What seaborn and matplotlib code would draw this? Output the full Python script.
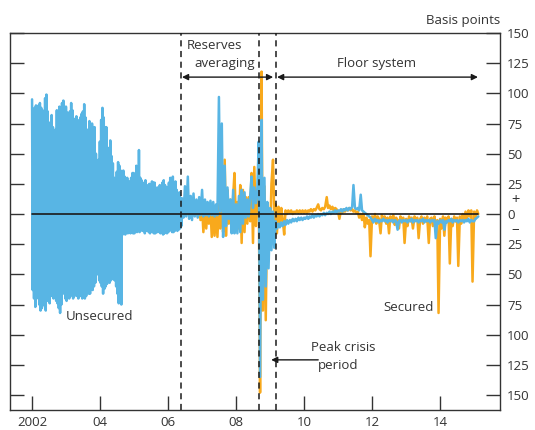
import pandas as pd
import numpy as np
import matplotlib
matplotlib.use("Agg")
import matplotlib.pyplot as plt
import seaborn as sns

# --- DATA: spreads to Bank Rate, basis points ---
# weekly readings for the very noisy early unsecured period (high/low alternating)
EARLY_START = "2002-01-01"
unsecured_early = [
    # 2002
    95, -63, 60, -70, 88, -77, 90, -70, 85, -57, 90, -75, 92, -80,
    88, -78, 86, -71, 80, -76, 96, -80, 99, -72, 85, -71, 70, -74,
    76, -68, 82, -66, 72, -70, 66, -68, 70, -72, 86, -74, 84, -78,
    89, -82, 80, -75, 92, -35, 94, -66, 88, -70,
    # 2003
    89, -72, 84, -68, 78, -70, 85, -68, 92, -65, 86, -70, 79, -68,
    75, -66, 81, -68, 78, -70, 76, -66, 80, -68, 83, -70, 85, -68,
    91, -70, 80, -68, 65, -64, 70, -66, 77, -66, 74, -38, 75, -63,
    72, -60, 72, -57, 50, -46, 27, -50, 45, -55,
    # 2004
    60, -57, 78, -60, 88, -66, 80, -62, 72, -60, 72, -58, 55, -55,
    41, -57, 61, -55, 48, -52, 42, -54, 30, -55, 25, -60, 35, -66,
    43, -74, 40, -70, 36, -75, 30, -17, 36, -16, 31, -17, 28, -15,
    30, -16, 25, -15, 27, -16, 30, -14, 34, -16,
    # 2005
    34, -16, 32, -14, 40, -15, 36, -14, 53, -15, 30, -13, 28, -14,
    23, -13, 26, -16, 28, -14, 22, -13, 24, -15, 25, -16, 22, -14,
    27, -15, 26, -16, 26, -16, 20, -15, 22, -15, 20, -14, 24, -16,
    22, -15, 26, -17, 28, -16, 24, -15, 22, -16,
    # 2006 (to May)
    22, -15, 26, -14, 30, -13, 28, -15, 31, -15, 25, -14, 27, -13,
    20, -14, 14, -13, 18, -12, 13, -10,
]

# semi-monthly readings from June 2006
LATE_START = "2006-06-01"
unsecured_late = [
    # 2006 (from June)
    13, -3, 23, -2, 31, -4, 15, -5, 17, -2, 12, -3, 14, -1,
    # 2007
    20, -2, 12, -1, 10, -2, 11, -1, 10, -2, 8, -1,
    97, 2, 75, -19, 40, -10, 22, -4, 12, -16, 20, -16,
    # 2008
    8, -16, 15, -15, 20, -8, 18, -3, 12, -2, 15, 31,
    5, 22, 9, 18, 60, -135, 78, -71, 30, -60, 10, -45,
    # 2009
    5, -30, 2, -28, -6, -12, -8, -11, -7, -10, -6, -9,
    -5, -8, -5, -7, -4, -6, -4, -6, -3, -5, -3, -5,
    # 2010
    -3, -4, -2, -4, -2, -3, -1, -3, -1, -2, 0, -2,
    0, -1, 1, -1, 1, 0, 2, 0, 2, 1, 3, 1,
    # 2011
    3, 2, 4, 2, 4, 3, 5, 3, 5, 4, 6, 24,
    5, 4, 5, 3, 16, 3, 2, 1, 0, -1, -2, -3,
    # 2012
    -5, -7, -4, -6, -5, -7, -5, -6, -4, -6, -5, -7,
    -5, -6, -5, -7, -5, -6, -13, -6, -5, -7, -5, -6,
    # 2013
    -5, -7, -5, -6, -4, -7, -5, -6, -5, -7, -5, -6,
    -4, -7, -5, -6, -5, -7, -5, -6, -5, -20, -6, -8,
    # 2014
    -5, -7, -5, -13, -6, -7, -5, -6, -4, -7, -5, -6,
    -5, -7, -5, -6, -5, -7, -5, -6, -4, -7, -5, -6,
    # 2015
    -6, -4, -3, -2,
]

secured = [
    # 2006 (from June)
    8, 0, 10, -1, 12, 0, 9, -2, 10, -1, 8, -2, 9, -5,
    # 2007
    6, -15, 5, -12, 6, -8, 5, -19, 6, -18, 4, -19,
    8, -12, 10, -15, 45, -18, 20, -8, 12, -10, 15, 34,
    # 2008
    -10, 10, -12, 24, -24, 20, -15, 14, -8, 14, -6, 34,
    -24, 39, -10, 13, 20, -148, 118, -80, 23, -88, 9, -30,
    # 2009
    -20, 25, 45, -5, 8, -16, 6, -10, 5, -4, -17, 3,
    0, 3, 1, 3, 0, 2, 1, 3, 1, 3, 1, 3,
    # 2010
    1, 3, 1, 3, 2, 4, 2, 4, 3, 5, 8, 4,
    3, 5, 4, 6, 14, 5, 7, 4, 6, 3, 5, 4,
    # 2011
    2, -4, 3, 1, 4, 2, 4, 3, 5, 3, 4, 2,
    3, 1, 2, -3, 0, -5, 1, -11, -3, -8, -5, -35,
    # 2012
    -2, -6, 0, -8, -2, -4, -16, -1, -5, -2, -8, -3,
    -16, -2, -6, -1, -9, -3, -5, -12, -2, -6, -3, -24,
    # 2013
    -4, -10, -2, -6, -3, -12, -2, -5, -3, -20, -4, -2,
    -8, -3, -6, -2, -24, -4, -3, -10, -2, -14, -5, -82,
    # 2014
    -4, -12, -2, -18, -3, -6, -2, -41, -4, -10, -2, -6,
    -3, -43, -2, -8, 0, -5, 2, -4, 3, -2, 3, -56,
    # 2015
    2, -4, 3, 0,
]

regime_dates = ["2006-05-18", "2008-09-01", "2009-03-05"]
year_ticks = [2002, 2004, 2006, 2008, 2010, 2012, 2014]
year_labels = ["2002", "04", "06", "08", "10", "12", "14"]
bp_ticks = list(range(-150, 151, 25))
bp_labels = [str(abs(v)) for v in bp_ticks]

BLUE = "#58B5E4"
ORANGE = "#F8A91C"
INK = "#333333"

# --- BUILD FRAME ---
df = pd.concat([
    pd.DataFrame({"date": pd.date_range(EARLY_START, periods=len(unsecured_early), freq="7D"),
                  "bp": unsecured_early, "series": "Unsecured"}),
    pd.DataFrame({"date": pd.date_range(LATE_START, periods=len(unsecured_late), freq="SMS"),
                  "bp": unsecured_late, "series": "Unsecured"}),
    pd.DataFrame({"date": pd.date_range(LATE_START, periods=len(secured), freq="SMS"),
                  "bp": secured, "series": "Secured"}),
], ignore_index=True)

# --- PLOT ---
sns.set_style("white")
plt.rcParams["font.family"] = ["Open Sans", "DejaVu Sans"]
plt.rcParams["font.size"] = 9.5

fig = plt.figure(figsize=(5.35, 4.3), dpi=100)
ax = fig.add_axes([10 / 535, 20 / 430, 490 / 535, 377 / 430])

sns.lineplot(data=df, x="date", y="bp", hue="series", hue_order=["Secured", "Unsecured"],
             palette={"Secured": ORANGE, "Unsecured": BLUE}, estimator=None,
             linewidth=1.8, legend=False, ax=ax)

ax.plot([df["date"].min(), df["date"].max()], [0, 0], color="#1a1a1a", lw=1.2, zorder=5)
for d in regime_dates:
    ax.axvline(pd.Timestamp(d), color="#1a1a1a", lw=1.1, ls=(0, (4, 3)), zorder=6)

ax.set_xlim(pd.Timestamp("2001-05-09"), pd.Timestamp("2015-10-06"))
ax.set_ylim(-162.4, 150)
ax.set_xlabel("")
ax.set_ylabel("")

ax.set_xticks([pd.Timestamp(f"{y}-01-01") for y in year_ticks])
ax.set_xticklabels(year_labels)
ax.set_yticks(bp_ticks)
ax.set_yticklabels(bp_labels)
ax.tick_params(axis="x", bottom=True, direction="in", length=10, width=1, color=INK,
               labelcolor=INK, pad=4, labelsize=9.5)
ax.tick_params(axis="y", left=True, right=True, labelleft=False, labelright=True,
               direction="in", length=10, width=1, color=INK, labelcolor=INK, pad=5, labelsize=9.5)
for s in ax.spines.values():
    s.set_color(INK)
    s.set_linewidth(1)

# --- ANNOTATIONS ---
tk = dict(transform=ax.transAxes, color=INK, fontsize=9.5)
ax.text(1.0, 1.034, "Basis points", ha="right", va="center", **tk)
ax.text(1.031, 0.556, "+", ha="center", va="center", transform=ax.transAxes, color=INK, fontsize=10.5)
ax.text(1.031, 0.479, "\u2013", ha="center", va="center", transform=ax.transAxes, color=INK, fontsize=11)

ax.text(0.361, 0.968, "Reserves", ha="left", va="center", **tk)
ax.text(0.3755, 0.920, "averaging", ha="left", va="center", **tk)
ax.text(0.749, 0.920, "Floor system", ha="center", va="center", **tk)
ax.text(0.681, 0.167, "Peak crisis", ha="center", va="center", **tk)
ax.text(0.670, 0.117, "period", ha="center", va="center", **tk)
ax.text(0.182, 0.249, "Unsecured", ha="center", va="center", **tk)
ax.text(0.813, 0.271, "Secured", ha="center", va="center", **tk)

arrow = dict(arrowstyle="<|-|>", color="#1a1a1a", lw=1, mutation_scale=9, shrinkA=0, shrinkB=0)
ax.annotate("", xy=(0.537, 0.883), xytext=(0.351, 0.883), xycoords="axes fraction", arrowprops=arrow)
ax.annotate("", xy=(0.955, 0.883), xytext=(0.545, 0.883), xycoords="axes fraction", arrowprops=arrow)
ax.annotate("", xy=(0.533, 0.133), xytext=(0.629, 0.133), xycoords="axes fraction",
            arrowprops=dict(arrowstyle="-|>", color="#1a1a1a", lw=1, mutation_scale=9, shrinkA=0, shrinkB=0))

fig.savefig("out.png", dpi=100)
